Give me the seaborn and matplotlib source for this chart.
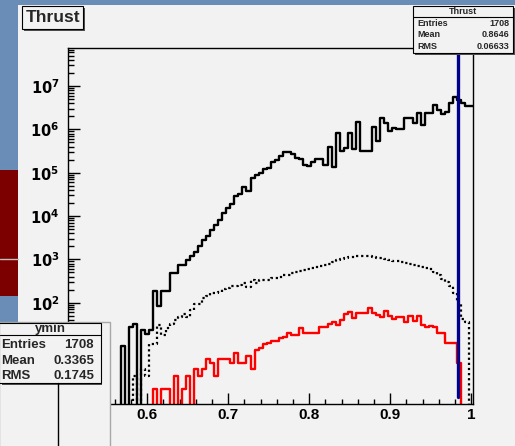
import numpy as np
import pandas as pd
import matplotlib
matplotlib.use("Agg")
import matplotlib.pyplot as plt
from matplotlib.patches import Rectangle
from matplotlib.ticker import (FixedLocator, FixedFormatter, MultipleLocator,
                               LogLocator, NullFormatter)
import seaborn as sns

# binning of the Thrust histograms: 100 bins of 0.005
bin_lo = 0.5025
bin_width = 0.005
n_bins = 100

# solid black histogram (all events), one value per bin
thrust_all = [
    0, 0, 0, 0, 0, 0, 0, 0, 0, 0,
    0, 0, 0, 10, 0, 27, 32, 0, 23, 19,
    23, 190, 85, 190, 190, 480, 480, 740, 740, 950,
    1200, 1500, 2050, 2800, 3450, 4800, 6200, 8300, 12000, 15100,
    19000, 29000, 33000, 48000, 38000, 74000, 89000, 100000, 120000, 129000,
    178000, 195000, 245000, 300000, 300000, 270000, 214000, 204000, 151000, 141000,
    178000, 204000, 204000, 151000, 400000, 138000, 810000, 324000, 363000, 830000,
    347000, 1510000, 324000, 324000, 324000, 1120000, 550000, 1820000, 1380000, 910000,
    1100000, 1020000, 1020000, 1820000, 1820000, 1380000, 2340000, 1260000, 2450000, 2450000,
    3630000, 2820000, 2290000, 2570000, 3980000, 5500000, 4790000, 3980000, 3470000, 3470000,
]

# dotted black histogram
thrust_dotted = [
    0, 0, 0, 0, 0, 0, 0, 0, 0, 0,
    0, 0, 0, 0, 0, 0, 2, 0, 3, 2,
    11, 11, 30, 18, 26, 32, 40, 46, 55, 46,
    68, 95, 95, 126, 141, 170, 170, 178, 204, 214,
    240, 240, 257, 288, 234, 331, 288, 331, 331, 331,
    380, 380, 398, 437, 437, 479, 513, 525, 562, 603,
    617, 676, 708, 741, 794, 851, 955, 1000, 1070, 1120,
    1150, 1200, 1200, 1200, 1170, 1120, 1070, 1050, 1000, 955,
    933, 933, 851, 813, 776, 741, 708, 661, 631, 589,
    501, 437, 355, 295, 240, 166, 100, 42, 36, 0,
]

# red histogram
thrust_red = [
    0, 0, 0, 0, 0, 0, 0, 0, 0, 0,
    0, 0, 0, 0, 0, 0, 0, 0, 0, 0,
    0, 1, 0, 1, 1, 0, 2, 0, 1, 2,
    0, 3, 2, 3, 5, 4, 2, 5, 5, 5,
    4, 7, 4, 4, 6, 3, 8, 9, 11, 12,
    13, 13, 15, 16, 20, 18, 18, 26, 20, 20,
    20, 20, 28, 27, 33, 36, 30, 40, 55, 62,
    45, 57, 57, 58, 76, 57, 52, 46, 65, 50,
    42, 47, 47, 36, 49, 38, 48, 30, 27, 29,
    27, 20, 20, 12, 12, 12, 4, 0, 0, 0,
]

cut_value = 0.983

x_ticks = [0.6, 0.7, 0.8, 0.9, 1.0]
x_tick_labels = ["0.6", "0.7", "0.8", "0.9", "1"]

# decades on the log axis; the two lowest labels sit under the ymin pad
y_ticks = [1e0, 1e1, 1e2, 1e3, 1e4, 1e5, 1e6, 1e7]
y_tick_labels = ["", "", r"$10^{2}$", r"$10^{3}$", r"$10^{4}$",
                 r"$10^{5}$", r"$10^{6}$", r"$10^{7}$"]

stats_main = [("Entries", "1708"), ("Mean", "0.8646"), ("RMS", "0.06633")]
stats_ymin = [("Entries", "1708"), ("Mean", "0.3365"), ("RMS", "0.1745")]

bin_hi = bin_lo + n_bins * bin_width
centers = bin_lo + bin_width * (np.arange(n_bins) + 0.5)
df = pd.DataFrame({
    'thrust': centers,
    'all': thrust_all,
    'dotted': thrust_dotted,
    'red': thrust_red,
})

sns.set_style("ticks")
plt.rcParams['font.family'] = ['Liberation Sans Narrow', 'Liberation Sans', 'DejaVu Sans']
plt.rcParams['font.weight'] = 'bold'
plt.rcParams['mathtext.fontset'] = 'custom'
plt.rcParams['mathtext.rm'] = 'Liberation Sans Narrow:bold'
plt.rcParams['mathtext.default'] = 'rm'

W, H = 515, 446
fig = plt.figure(figsize=(W / 100, H / 100), dpi=100)
fig.patch.set_facecolor('#6a8db8')


def frac(x0, y0, x1, y1):
    # pixel box (top-left origin) -> figure fraction rect
    return [x0 / W, 1 - y1 / H, (x1 - x0) / W, (y1 - y0) / H]


# desktop / canvas background
bg = fig.add_axes([0, 0, 1, 1], zorder=-2)
bg.set_xlim(0, W)
bg.set_ylim(H, 0)
bg.axis('off')
bg.add_patch(Rectangle((18, 5), W - 18, H - 5, facecolor='#f2f2f2', edgecolor='none'))
bg.add_patch(Rectangle((0, 170), 18, 126, facecolor='#7d0000', edgecolor='none'))
bg.plot([0, 18], [259, 259], color='#c0c0c0', lw=1)

# main pad
ax = fig.add_axes(frac(68.3, 48, 473.3, 404), zorder=0)
ax.set_facecolor('#f2f2f2')
ax.set_yscale('log')

common = dict(data=df, x='thrust', bins=n_bins, binrange=(bin_lo, bin_hi),
              element='step', fill=False, ax=ax)
sns.histplot(weights='all', color='black', linewidth=1.7, **common)
sns.histplot(weights='dotted', color='black', linewidth=1.6,
             linestyle=(0, (1, 1.3)), **common)
sns.histplot(weights='red', color='#ff0000', linewidth=1.7, **common)

ax.axvline(cut_value, ymin=0.02, ymax=0.997, color='#00008c', lw=2.4)

ax.set_xlim(bin_lo, bin_hi)
ax.set_ylim(10 ** -0.34, 10 ** 7.88)
ax.set_xlabel('')
ax.set_ylabel('')

ax.xaxis.set_major_locator(FixedLocator(x_ticks))
ax.xaxis.set_major_formatter(FixedFormatter(x_tick_labels))
ax.xaxis.set_minor_locator(MultipleLocator(0.02))
ax.yaxis.set_major_locator(FixedLocator(y_ticks))
ax.yaxis.set_major_formatter(FixedFormatter(y_tick_labels))
ax.yaxis.set_minor_locator(LogLocator(base=10, subs=np.arange(2, 10), numticks=20))
ax.yaxis.set_minor_formatter(NullFormatter())

ax.tick_params(which='both', direction='in', top=False, right=False, color='black',
               labelcolor='black', width=1)
ax.tick_params(axis='x', which='major', length=8, pad=3, labelsize=11)
ax.tick_params(axis='x', which='minor', length=3.8)
ax.tick_params(axis='y', which='major', length=8.6, pad=6.5, labelsize=10.5)
ax.tick_params(axis='y', which='minor', length=4.3)
for s in ax.spines.values():
    s.set_color('black')
    s.set_linewidth(1)

# overlay: title box, stats boxes, second pad
ov = fig.add_axes([0, 0, 1, 1], zorder=5)
ov.set_xlim(0, W)
ov.set_ylim(H, 0)
ov.axis('off')

ov.add_patch(Rectangle((24, 8), 61, 23, facecolor='#505050', edgecolor='none'))
ov.add_patch(Rectangle((22.3, 6), 61, 22.7, facecolor='#f2f2f2', edgecolor='black', lw=0.8))
ov.text(52.8, 17.6, 'Thrust', ha='center', va='center', fontsize=12.5, fontweight='bold')

# stats box of Thrust
ov.add_patch(Rectangle((415, 8), 100, 47, facecolor='#505050', edgecolor='none'))
ov.add_patch(Rectangle((413.3, 6), 99.5, 47, facecolor='#f2f2f2', edgecolor='black', lw=0.8))
ov.plot([413.3, 512.8], [16.7, 16.7], color='black', lw=0.8)
ov.text(463, 11.6, 'Thrust', ha='center', va='center', fontsize=6.5)
for i, (lab, val) in enumerate(stats_main):
    yy = 23.3 + i * 11.4
    ov.text(417.5, yy, lab, ha='left', va='center', fontsize=6.5)
    ov.text(509.5, yy, val, ha='right', va='center', fontsize=6.5)

# second canvas (ymin) in the lower left corner
ov.add_patch(Rectangle((-1, 321.7), 110.5, 126, facecolor='#f2f2f2', edgecolor='#a8a8a8', lw=1))
ov.plot([58.3, 58.3], [382.7, 446], color='black', lw=1)
ov.add_patch(Rectangle((1.5, 324.5), 100.7, 60.3, facecolor='#505050', edgecolor='none'))
ov.add_patch(Rectangle((-1, 322.7), 101.7, 60, facecolor='#f2f2f2', edgecolor='black', lw=0.8))
ov.plot([0, 100.7], [335, 335], color='black', lw=0.8)
ov.text(50.3, 329, 'ymin', ha='center', va='center', fontsize=9.5)
for i, (lab, val) in enumerate(stats_ymin):
    yy = 345.5 + i * 15.3
    ov.text(1.5, yy, lab, ha='left', va='center', fontsize=9.5)
    ov.text(94, yy, val, ha='right', va='center', fontsize=9.5)

fig.savefig('out.png', dpi=100, facecolor=fig.get_facecolor())
